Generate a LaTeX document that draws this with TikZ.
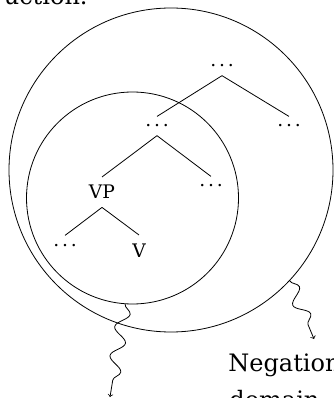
\documentclass[tikz,border=0pt]{standalone}
\usepackage{fontspec}
\setmainfont{DejaVu Serif}
\usetikzlibrary{decorations.pathmorphing}
\newcommand{\ddd}{.\kern.15em.\kern.15em.}

\begin{document}
\begin{tikzpicture}[x=0.75pt, y=-0.75pt, line width=0.6pt,
    leaf/.style={anchor=base, inner sep=6pt, font=\fontsize{14}{17}\selectfont},
    wave/.style={->, decorate, decoration={snake, amplitude=5pt, segment length=22pt, post length=4pt}},
    label/.style={anchor=base west, inner sep=0pt, font=\fontsize{18}{22}\selectfont}]
    % Parametry
    \def\Rout{243pt}  % średnica dużego okręgu
    \def\Rin{159pt}   % średnica małego okręgu

    \useasboundingbox (0,0) rectangle (333,398);

    % Okręgi
    \node[draw, circle, minimum size=\Rout, inner sep=0pt] (outer) at (171,170) {};
    \node[draw, circle, minimum size=\Rin, inner sep=0pt] (inner) at (132.5,198) {};

    % Drzewo
    \node[leaf] (top) at (222,67) {\ddd};
    \node[leaf] (mid) at (157,127) {\ddd};
    \node[leaf] (rone) at (289,127) {\ddd};
    \node[leaf] (vp) at (102,199) {VP};
    \node[leaf] (rtwo) at (211,187) {\ddd};
    \node[leaf] (low) at (65,246) {\ddd};
    \node[leaf] (v) at (139,257) {V};

    \draw (top.south) -- (mid.north);
    \draw (top.south) -- (rone.north);
    \draw (mid.south) -- (vp.north);
    \draw (mid.south) -- (rtwo.north);
    \draw (vp.south) -- (low.north);
    \draw (vp.south) -- (v.north);

    % Strzałki
    \coordinate (innerend) at (110,397);
    \coordinate (outerend) at (314,339);
    \draw[wave] (inner.266) -- (innerend);
    \draw[wave] (outer.317) -- (outerend);

    % Tekst
    \node[label, anchor=base east] (prev) at (88,5) {uction.};
    \node[label] (neg) at (228,371) {Negation};
    \node[label] (dom) at (229,408) {domain};
\end{tikzpicture}
\end{document}
